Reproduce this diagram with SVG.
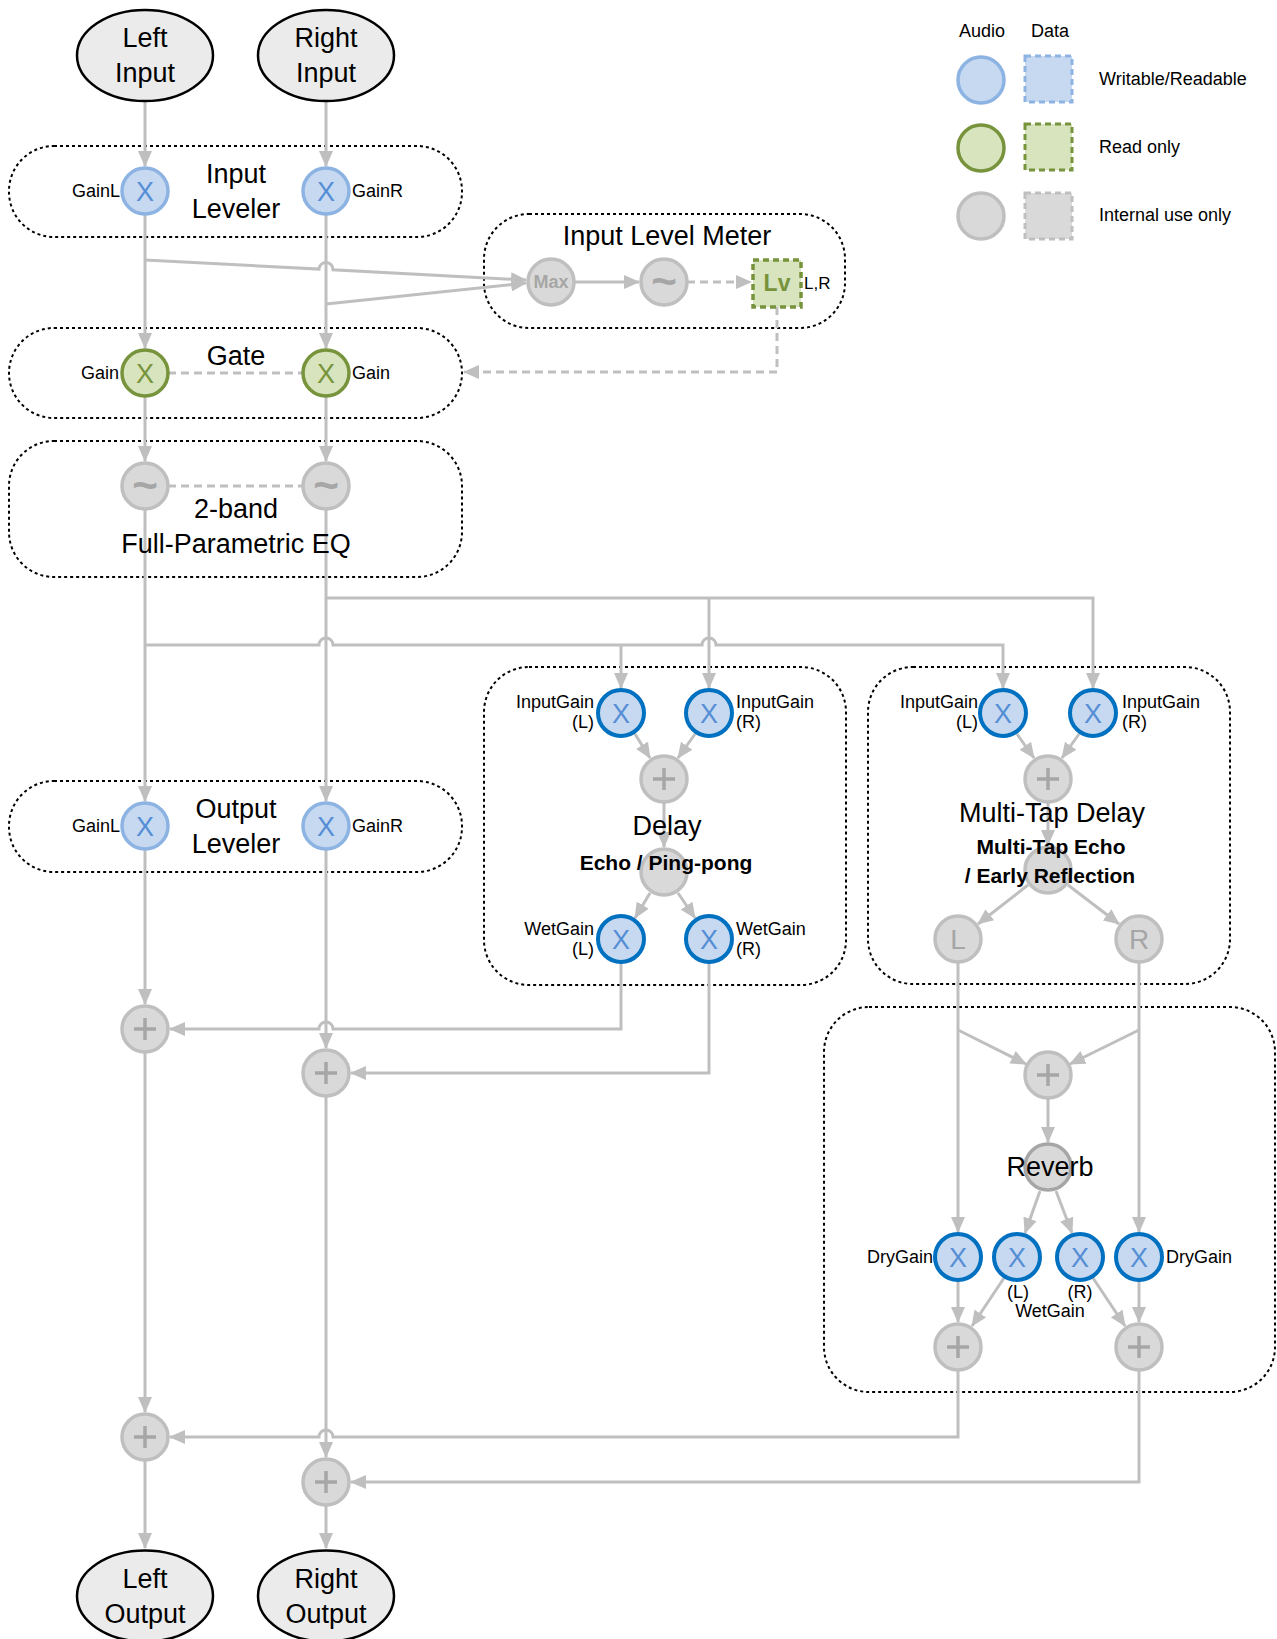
<svg xmlns="http://www.w3.org/2000/svg" width="1277" height="1639" viewBox="0 0 1277 1639">
<defs>
<style>
.conn{stroke:#BFBFBF;stroke-width:3;fill:none}
.dconn{stroke:#BFBFBF;stroke-width:3;fill:none;stroke-dasharray:8 5}
.grp{fill:none;stroke:#000;stroke-width:2;stroke-dasharray:3 3}
.io{fill:#EBEBEB;stroke:#000;stroke-width:2.5}
.wr{fill:#C6D9F1;stroke:#8DB3E2;stroke-width:3.5}
.wr2{fill:#C6D9F1;stroke:#0070C0;stroke-width:4}
.ro{fill:#D7E4BD;stroke:#77933C;stroke-width:3.5}
.int{fill:#D9D9D9;stroke:#BFBFBF;stroke-width:3.5}
.rev{fill:#D9D9D9;stroke:#A6A6A6;stroke-width:3.5}
.plus{stroke:#A6A6A6;stroke-width:3.5;fill:none}
text{font-family:"Liberation Sans",Arial,sans-serif;fill:#000}
.t27{font-size:27px;text-anchor:middle}
.t18{font-size:18px}
.b21{font-size:21px;font-weight:bold;text-anchor:middle}
.xb{font-size:27px;fill:#558ED5;text-anchor:middle}
.xg{font-size:27px;fill:#77933C;text-anchor:middle}
.sym{font-size:30px;fill:#A6A6A6;text-anchor:middle}
.tl{font-size:44px;font-weight:bold;fill:#A6A6A6;text-anchor:middle}
.e{text-anchor:end}
.m{text-anchor:middle}
</style>
<marker id="ah" markerUnits="userSpaceOnUse" markerWidth="16" markerHeight="14" refX="15" refY="7" orient="auto">
<path d="M0,0 L16,7 L0,14 z" fill="#BFBFBF"/>
</marker>
</defs>

<g id="groups">
<rect id="grp-input-leveler" class="grp" x="9" y="146" width="453" height="91" rx="45"/>
<rect id="grp-gate" class="grp" x="9" y="328" width="453" height="90" rx="45"/>
<rect id="grp-eq" class="grp" x="9" y="441" width="453" height="136" rx="45"/>
<rect id="grp-output-leveler" class="grp" x="9" y="781" width="453" height="91" rx="45"/>
<rect id="grp-ilm" class="grp" x="484" y="214" width="361" height="114" rx="45"/>
<rect id="grp-delay" class="grp" x="484" y="667" width="362" height="318" rx="45"/>
<rect id="grp-mtd" class="grp" x="868" y="667" width="362" height="317" rx="45"/>
<rect id="grp-reverb" class="grp" x="824" y="1007" width="451" height="385" rx="45"/>
</g>

<g id="connectors">
<path class="conn" d="M145,101 L145,166" marker-end="url(#ah)"/>
<path class="conn" d="M326,101 L326,166" marker-end="url(#ah)"/>
<path class="conn" d="M145,214 L145,348" marker-end="url(#ah)"/>
<path class="conn" d="M326,214 L326,348" marker-end="url(#ah)"/>
<path class="conn" d="M145,260 L319,269.1 A7,7 0 0 1 333,269.8 L526,280" marker-end="url(#ah)"/>
<path class="conn" d="M326,304 L526,283" marker-end="url(#ah)"/>
<path class="conn" d="M574,282 L639,282" marker-end="url(#ah)"/>
<path class="dconn" d="M687,282 L751,282" marker-end="url(#ah)"/>
<path class="dconn" d="M777,307 L777,372 L464,372" marker-end="url(#ah)"/>
<path class="dconn" d="M168,373 L303,373"/>
<path class="conn" d="M145,396 L145,461" marker-end="url(#ah)"/>
<path class="conn" d="M326,396 L326,461" marker-end="url(#ah)"/>
<path class="dconn" d="M168,486 L303,486"/>
<path class="conn" d="M145,509 L145,801" marker-end="url(#ah)"/>
<path class="conn" d="M326,509 L326,801" marker-end="url(#ah)"/>
<path class="conn" d="M326,598 L1093,598 L1093,688" marker-end="url(#ah)"/>
<path class="conn" d="M709,598 L709,688" marker-end="url(#ah)"/>
<path class="conn" d="M145,645 L319,645 A7,7 0 0 1 333,645 L702,645 A7,7 0 0 1 716,645 L1003,645 L1003,688" marker-end="url(#ah)"/>
<path class="conn" d="M621,645 L621,688" marker-end="url(#ah)"/>
<path class="conn" d="M635,734 L650,758" marker-end="url(#ah)"/>
<path class="conn" d="M695,734 L678,758" marker-end="url(#ah)"/>
<path class="conn" d="M664,802 L664,847" marker-end="url(#ah)"/>
<path class="conn" d="M650,893 L635,918" marker-end="url(#ah)"/>
<path class="conn" d="M678,893 L695,918" marker-end="url(#ah)"/>
<path class="conn" d="M621,962 L621,1029 L333,1029 A7,7 0 0 0 319,1029 L170,1029" marker-end="url(#ah)"/>
<path class="conn" d="M709,962 L709,1073 L351,1073" marker-end="url(#ah)"/>
<path class="conn" d="M145,849 L145,1004" marker-end="url(#ah)"/>
<path class="conn" d="M326,849 L326,1048" marker-end="url(#ah)"/>
<path class="conn" d="M145,1052 L145,1412" marker-end="url(#ah)"/>
<path class="conn" d="M326,1096 L326,1457" marker-end="url(#ah)"/>
<path class="conn" d="M145,1460 L145,1548" marker-end="url(#ah)"/>
<path class="conn" d="M326,1505 L326,1548" marker-end="url(#ah)"/>
<path class="conn" d="M1017,734 L1034,758" marker-end="url(#ah)"/>
<path class="conn" d="M1079,734 L1062,758" marker-end="url(#ah)"/>
<path class="conn" d="M1048,802 L1048,845" marker-end="url(#ah)"/>
<path class="conn" d="M1028,885 L978,924" marker-end="url(#ah)"/>
<path class="conn" d="M1068,885 L1119,924" marker-end="url(#ah)"/>
<path class="conn" d="M958,962 L958,1232" marker-end="url(#ah)"/>
<path class="conn" d="M1139,962 L1139,1232" marker-end="url(#ah)"/>
<path class="conn" d="M958,1030 L1026,1064" marker-end="url(#ah)"/>
<path class="conn" d="M1139,1030 L1070,1064" marker-end="url(#ah)"/>
<path class="conn" d="M1048,1098 L1048,1142" marker-end="url(#ah)"/>
<path class="conn" d="M1040,1191 L1025,1233" marker-end="url(#ah)"/>
<path class="conn" d="M1056,1191 L1072,1233" marker-end="url(#ah)"/>
<path class="conn" d="M958,1280 L958,1322" marker-end="url(#ah)"/>
<path class="conn" d="M1139,1280 L1139,1322" marker-end="url(#ah)"/>
<path class="conn" d="M1004,1278 L972,1326" marker-end="url(#ah)"/>
<path class="conn" d="M1093,1278 L1125,1326" marker-end="url(#ah)"/>
<path class="conn" d="M958,1370 L958,1437 L333,1437 A7,7 0 0 0 319,1437 L170,1437" marker-end="url(#ah)"/>
<path class="conn" d="M1139,1370 L1139,1482 L351,1482" marker-end="url(#ah)"/>
</g>

<g id="left-input"><ellipse class="io" cx="145" cy="55.5" rx="68" ry="45.5"/><text class="t27" x="145" y="47">Left</text><text class="t27" x="145" y="82">Input</text></g>
<g id="right-input"><ellipse class="io" cx="326" cy="55.5" rx="68" ry="45.5"/><text class="t27" x="326" y="47">Right</text><text class="t27" x="326" y="82">Input</text></g>

<g id="input-leveler-label"><text class="t27" x="236" y="183">Input</text><text class="t27" x="236" y="218">Leveler</text></g>
<g id="in-gainl"><circle class="wr" cx="145" cy="191" r="23"/><text class="xb" x="145" y="201">X</text><text class="t18 e" x="120" y="197">GainL</text></g>
<g id="in-gainr"><circle class="wr" cx="326" cy="191" r="23"/><text class="xb" x="326" y="201">X</text><text class="t18" x="352" y="197">GainR</text></g>

<g id="ilm-label"><text class="t27" x="667" y="245">Input Level Meter</text></g>
<g id="ilm-max"><circle class="int" cx="551" cy="282" r="23"/><text x="551" y="288" style="font-size:18px;font-weight:bold;fill:#A6A6A6;text-anchor:middle">Max</text></g>
<g id="ilm-filter"><circle class="int" cx="664" cy="282" r="23"/><text class="tl" x="664" y="296">~</text></g>
<g id="ilm-lv"><rect x="753" y="260" width="48" height="47" fill="#D7E4BD" stroke="#77933C" stroke-width="3.5" stroke-dasharray="6 4"/><text x="777" y="291" style="font-size:23px;font-weight:bold;fill:#77933C;text-anchor:middle">Lv</text><text x="804" y="289" style="font-size:17px">L,R</text></g>

<g id="gate-label"><text class="t27" x="236" y="365">Gate</text></g>
<g id="gate-l"><circle class="ro" cx="145" cy="373" r="23"/><text class="xg" x="145" y="383">X</text><text class="t18 e" x="119" y="379">Gain</text></g>
<g id="gate-r"><circle class="ro" cx="326" cy="373" r="23"/><text class="xg" x="326" y="383">X</text><text class="t18" x="352" y="379">Gain</text></g>

<g id="eq-label"><text class="t27" x="236" y="518">2-band</text><text class="t27" x="236" y="553">Full-Parametric EQ</text></g>
<g id="eq-l"><circle class="int" cx="145" cy="486" r="23"/><text class="tl" x="145" y="500">~</text></g>
<g id="eq-r"><circle class="int" cx="326" cy="486" r="23"/><text class="tl" x="326" y="500">~</text></g>

<g id="output-leveler-label"><text class="t27" x="236" y="818">Output</text><text class="t27" x="236" y="853">Leveler</text></g>
<g id="out-gainl"><circle class="wr" cx="145" cy="826" r="23"/><text class="xb" x="145" y="836">X</text><text class="t18 e" x="120" y="832">GainL</text></g>
<g id="out-gainr"><circle class="wr" cx="326" cy="826" r="23"/><text class="xb" x="326" y="836">X</text><text class="t18" x="352" y="832">GainR</text></g>

<g id="delay-ig-l"><circle class="wr2" cx="621" cy="713" r="23"/><text class="xb" x="621" y="723">X</text><text class="t18 e" x="594" y="708">InputGain</text><text class="t18 e" x="594" y="728">(L)</text></g>
<g id="delay-ig-r"><circle class="wr2" cx="709" cy="713" r="23"/><text class="xb" x="709" y="723">X</text><text class="t18" x="736" y="708">InputGain</text><text class="t18" x="736" y="728">(R)</text></g>
<g id="delay-sum"><circle class="int" cx="664" cy="779" r="23"/><path class="plus" d="M653,779 L675,779 M664,768 L664,790"/></g>
<g id="delay-core"><circle class="int" cx="664" cy="872" r="23"/></g>
<g id="delay-label"><text class="t27" x="667" y="835">Delay</text><text class="b21" x="666" y="870">Echo / Ping-pong</text></g>
<g id="delay-wg-l"><circle class="wr2" cx="621" cy="939" r="23"/><text class="xb" x="621" y="949">X</text><text class="t18 e" x="594" y="935">WetGain</text><text class="t18 e" x="594" y="955">(L)</text></g>
<g id="delay-wg-r"><circle class="wr2" cx="709" cy="939" r="23"/><text class="xb" x="709" y="949">X</text><text class="t18" x="736" y="935">WetGain</text><text class="t18" x="736" y="955">(R)</text></g>

<g id="mtd-ig-l"><circle class="wr2" cx="1003" cy="713" r="23"/><text class="xb" x="1003" y="723">X</text><text class="t18 e" x="978" y="708">InputGain</text><text class="t18 e" x="978" y="728">(L)</text></g>
<g id="mtd-ig-r"><circle class="wr2" cx="1093" cy="713" r="23"/><text class="xb" x="1093" y="723">X</text><text class="t18" x="1122" y="708">InputGain</text><text class="t18" x="1122" y="728">(R)</text></g>
<g id="mtd-sum"><circle class="int" cx="1048" cy="779" r="23"/><path class="plus" d="M1037,779 L1059,779 M1048,768 L1048,790"/></g>
<g id="mtd-core"><circle class="int" cx="1048" cy="870" r="23"/></g>
<g id="mtd-label"><text class="t27" x="1052" y="822">Multi-Tap Delay</text><text class="b21" x="1051" y="854">Multi-Tap Echo</text><text class="b21" x="1050" y="883">/ Early Reflection</text></g>
<g id="mtd-l"><circle class="int" cx="958" cy="939" r="23"/><text class="sym" x="958" y="949" style="font-size:28px">L</text></g>
<g id="mtd-r"><circle class="int" cx="1139" cy="939" r="23"/><text class="sym" x="1139" y="949" style="font-size:28px">R</text></g>

<g id="rev-sum"><circle class="int" cx="1048" cy="1075" r="23"/><path class="plus" d="M1037,1075 L1059,1075 M1048,1064 L1048,1086"/></g>
<g id="reverb"><circle class="rev" cx="1048" cy="1167" r="23"/><text class="t27" x="1050" y="1176">Reverb</text></g>
<g id="rev-dry-l"><circle class="wr2" cx="958" cy="1257" r="23"/><text class="xb" x="958" y="1267">X</text><text class="t18 e" x="933" y="1263">DryGain</text></g>
<g id="rev-wet-l"><circle class="wr2" cx="1017" cy="1257" r="23"/><text class="xb" x="1017" y="1267">X</text><text class="t18 m" x="1018" y="1298">(L)</text></g>
<g id="rev-wet-r"><circle class="wr2" cx="1080" cy="1257" r="23"/><text class="xb" x="1080" y="1267">X</text><text class="t18 m" x="1080" y="1298">(R)</text></g>
<g id="rev-wet-label"><text class="t18 m" x="1050" y="1317">WetGain</text></g>
<g id="rev-dry-r"><circle class="wr2" cx="1139" cy="1257" r="23"/><text class="xb" x="1139" y="1267">X</text><text class="t18" x="1166" y="1263">DryGain</text></g>
<g id="rev-out-l"><circle class="int" cx="958" cy="1347" r="23"/><path class="plus" d="M947,1347 L969,1347 M958,1336 L958,1358"/></g>
<g id="rev-out-r"><circle class="int" cx="1139" cy="1347" r="23"/><path class="plus" d="M1128,1347 L1150,1347 M1139,1336 L1139,1358"/></g>

<g id="mix-l1"><circle class="int" cx="145" cy="1029" r="23"/><path class="plus" d="M134,1029 L156,1029 M145,1018 L145,1040"/></g>
<g id="mix-r1"><circle class="int" cx="326" cy="1073" r="23"/><path class="plus" d="M315,1073 L337,1073 M326,1062 L326,1084"/></g>
<g id="mix-l2"><circle class="int" cx="145" cy="1437" r="23"/><path class="plus" d="M134,1437 L156,1437 M145,1426 L145,1448"/></g>
<g id="mix-r2"><circle class="int" cx="326" cy="1482" r="23"/><path class="plus" d="M315,1482 L337,1482 M326,1471 L326,1493"/></g>

<g id="left-output"><ellipse class="io" cx="145" cy="1596" rx="68" ry="45.5"/><text class="t27" x="145" y="1588">Left</text><text class="t27" x="145" y="1623">Output</text></g>
<g id="right-output"><ellipse class="io" cx="326" cy="1596" rx="68" ry="45.5"/><text class="t27" x="326" y="1588">Right</text><text class="t27" x="326" y="1623">Output</text></g>

<g id="legend">
<text class="t18 m" x="982" y="37">Audio</text>
<text class="t18 m" x="1050" y="37">Data</text>
<circle class="wr" cx="981" cy="80" r="23"/>
<rect x="1025" y="56" width="47" height="46" fill="#C6D9F1" stroke="#8DB3E2" stroke-width="3" stroke-dasharray="6 4"/>
<text class="t18" x="1099" y="85">Writable/Readable</text>
<circle class="ro" cx="981" cy="148" r="23"/>
<rect x="1025" y="124" width="47" height="46" fill="#D7E4BD" stroke="#77933C" stroke-width="3" stroke-dasharray="6 4"/>
<text class="t18" x="1099" y="153">Read only</text>
<circle class="int" cx="981" cy="216" r="23"/>
<rect x="1025" y="193" width="47" height="46" fill="#D9D9D9" stroke="#BFBFBF" stroke-width="3" stroke-dasharray="6 4"/>
<text class="t18" x="1099" y="221">Internal use only</text>
</g>
</svg>
